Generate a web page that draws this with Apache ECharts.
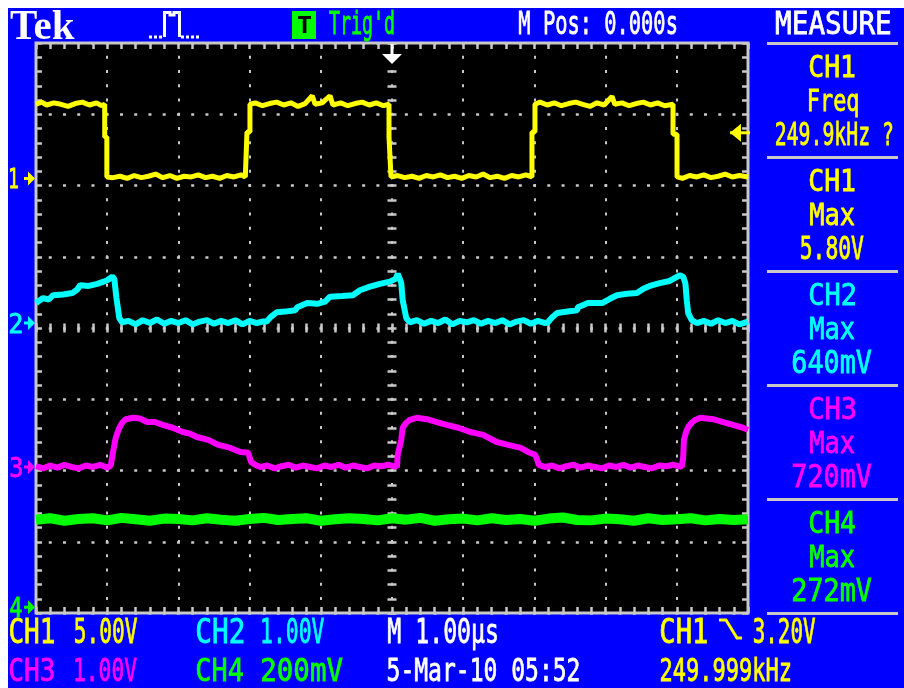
<!DOCTYPE html>
<html><head><meta charset="utf-8">
<script src="https://cdn.jsdelivr.net/npm/echarts@6/dist/echarts.min.js"></script>
<style>html,body{margin:0;padding:0;background:#fff}#c{width:904px;height:688px}</style>
</head><body><div id="c"></div>
<script>
// ---------- data ----------
// time in microseconds, 1.00 us/div, trigger at 0
const timeMin = -5, timeMax = 5;
const divMin = -4, divMax = 4;

// CH1 (yellow) 5.00 V/div
const ch1Scale = 5.0, ch1Pos = 2.1, ch1TrigLevel = 3.20;
const ch1Time = [-5.0,-4.92,-4.85,-4.75,-4.65,-4.55,-4.45,-4.35,-4.25,-4.15,-4.08,-4.035,-4.035,-4.005,-4.005,
  -3.92,-3.82,-3.72,-3.62,-3.52,-3.42,-3.32,-3.22,-3.12,-3.02,-2.92,-2.82,-2.72,-2.62,-2.52,-2.42,-2.32,-2.22,-2.12,-2.06,-2.037,-2.037,-1.995,-1.995,
  -1.92,-1.82,-1.72,-1.62,-1.52,-1.42,-1.32,-1.22,-1.12,-1.08,-0.98,-0.87,-0.83,-0.72,-0.62,-0.52,-0.42,-0.32,-0.22,-0.12,-0.042,-0.042,-0.014,-0.014,
  0.08,0.18,0.28,0.38,0.48,0.58,0.68,0.78,0.88,0.98,1.08,1.18,1.28,1.38,1.48,1.58,1.68,1.78,1.88,1.966,1.966,2.008,2.008,
  2.08,2.18,2.28,2.38,2.48,2.58,2.68,2.78,2.88,2.98,3.09,3.13,3.23,3.33,3.43,3.53,3.63,3.73,3.83,3.947,3.947,4.003,4.003,
  4.08,4.18,4.28,4.38,4.48,4.58,4.68,4.78,4.88,5.0];
const ch1Volts = [5.2,5.35,5.15,5.3,5.2,5.05,5.25,5.35,5.15,5.3,5.1,5.2,2.9,2.9,0.1,
  0.05,0.15,0.0,0.2,0.05,0.15,0.3,0.05,0.2,0.0,0.15,0.1,0.25,0.05,0.15,0.0,0.2,0.1,0.25,0.1,0.1,3.25,3.25,5.2,
  5.3,5.1,5.25,5.35,5.15,5.3,5.05,5.25,5.8,5.2,5.3,5.8,5.15,5.3,5.1,5.25,5.35,5.15,5.3,5.1,5.2,2.9,2.9,0.1,
  0.2,0.05,0.15,0.0,0.2,0.1,0.25,0.05,0.15,0.0,0.2,0.1,0.3,0.05,0.15,0.0,0.2,0.1,0.25,0.1,3.25,3.25,5.2,
  5.35,5.15,5.3,5.1,5.25,5.35,5.2,5.05,5.3,5.15,5.75,5.2,5.3,5.1,5.25,5.35,5.15,5.3,5.1,5.2,3.1,3.1,0.1,
  0.0,0.2,0.1,0.25,0.05,0.15,0.3,0.1,0.2,0.1];

// CH2 (cyan) 1.00 V/div
const ch2Scale = 1.0, ch2Pos = 0.07;
const ch2Time = [-5.0,-4.9,-4.82,-4.76,-4.62,-4.49,-4.42,-4.38,-4.26,-4.14,-4.05,-4.0,-3.93,-3.9,-3.87,-3.83,-3.79,
  -3.7,-3.6,-3.5,-3.4,-3.3,-3.2,-3.1,-3.0,-2.9,-2.8,-2.7,-2.6,-2.5,-2.4,-2.3,-2.2,-2.1,-2.0,-1.9,-1.82,
  -1.76,-1.71,-1.62,-1.5,-1.36,-1.33,-1.19,-1.05,-0.94,-0.87,-0.7,-0.55,-0.45,-0.31,-0.17,-0.03,0.05,0.08,0.11,0.13,0.15,0.2,0.25,
  0.35,0.45,0.55,0.65,0.75,0.85,0.95,1.05,1.15,1.25,1.35,1.45,1.55,1.65,1.75,1.85,1.95,2.05,2.15,
  2.19,2.25,2.32,2.39,2.6,2.61,2.68,2.75,2.95,3.06,3.16,3.3,3.44,3.53,3.62,3.76,3.9,3.97,4.04,4.09,4.12,4.14,4.16,4.21,4.28,
  4.38,4.48,4.58,4.68,4.78,4.88,5.0];
const ch2Volts = [0.28,0.35,0.33,0.39,0.40,0.42,0.47,0.53,0.52,0.55,0.58,0.6,0.65,0.62,0.35,0.07,0.01,
  0.03,-0.02,0.04,0.0,0.05,-0.01,0.03,0.0,0.04,-0.02,0.02,0.04,-0.01,0.03,0.0,0.04,-0.02,0.03,0.0,0.02,
  0.02,0.08,0.15,0.16,0.18,0.22,0.28,0.27,0.30,0.37,0.38,0.39,0.46,0.51,0.55,0.58,0.62,0.69,0.62,0.56,0.32,0.07,0.01,
  0.04,-0.01,0.03,0.0,0.05,-0.02,0.03,0.01,0.04,-0.01,0.03,0.0,0.04,-0.02,0.02,0.04,-0.01,0.03,0.0,
  0.01,0.08,0.14,0.15,0.18,0.22,0.25,0.28,0.28,0.34,0.39,0.41,0.42,0.48,0.52,0.56,0.59,0.63,0.67,0.65,0.56,0.32,0.14,0.04,0.0,
  0.03,-0.01,0.04,0.0,0.03,-0.02,0.02];

// CH3 (magenta) 1.00 V/div
const ch3Scale = 1.0, ch3Pos = -1.95;
const ch3Time = [-5.0,-4.9,-4.8,-4.7,-4.6,-4.5,-4.4,-4.3,-4.2,-4.1,-4.0,-3.95,-3.93,
  -3.92,-3.88,-3.83,-3.79,-3.74,-3.64,-3.54,-3.44,-3.33,-3.22,-3.08,-2.94,-2.84,-2.74,-2.58,-2.44,-2.28,-2.13,-2.02,-1.98,-1.92,-1.85,
  -1.75,-1.65,-1.55,-1.45,-1.35,-1.25,-1.15,-1.05,-0.95,-0.85,-0.75,-0.65,-0.55,-0.45,-0.35,-0.25,-0.15,-0.05,0.07,
  0.08,0.13,0.15,0.2,0.25,0.35,0.49,0.63,0.77,0.93,1.1,1.28,1.47,1.63,1.8,1.91,2.01,2.04,2.06,2.15,
  2.25,2.35,2.45,2.55,2.65,2.75,2.85,2.95,3.05,3.15,3.25,3.35,3.45,3.55,3.65,3.75,3.85,3.95,4.07,
  4.09,4.1,4.13,4.16,4.21,4.26,4.33,4.51,4.65,4.79,4.93,5.0];
const ch3Volts = [0.01,-0.02,0.02,-0.01,0.03,0.0,-0.02,0.02,0.0,0.03,-0.01,0.02,0.0,
  0.2,0.41,0.55,0.62,0.67,0.69,0.68,0.63,0.63,0.59,0.55,0.49,0.47,0.42,0.38,0.31,0.27,0.21,0.2,0.07,0.03,0.0,
  0.02,-0.02,0.01,0.03,-0.01,0.02,0.0,-0.02,0.02,0.0,0.03,-0.01,0.02,0.0,-0.02,0.02,0.01,0.03,0.0,
  0.17,0.38,0.55,0.62,0.66,0.69,0.67,0.63,0.59,0.55,0.49,0.45,0.35,0.31,0.27,0.21,0.17,0.1,0.03,0.0,
  0.02,-0.02,0.01,0.03,-0.01,0.02,0.0,-0.02,0.02,0.0,0.03,-0.01,0.02,0.0,-0.02,0.02,0.01,0.03,0.0,
  0.14,0.38,0.49,0.56,0.62,0.66,0.69,0.67,0.63,0.59,0.55,0.52];

// CH4 (green) 200 mV/div
const ch4Scale = 0.2, ch4Pos = -3.92;
const ch4Time = [-5.0,-4.8,-4.6,-4.4,-4.2,-4.0,-3.8,-3.6,-3.4,-3.2,-3.0,-2.8,-2.6,-2.4,-2.2,-2.0,-1.8,-1.6,-1.4,-1.2,
  -1.0,-0.8,-0.6,-0.4,-0.2,0.0,0.2,0.4,0.6,0.8,1.0,1.2,1.4,1.6,1.8,2.0,2.2,2.4,2.6,2.8,
  3.0,3.2,3.4,3.6,3.8,4.0,4.2,4.4,4.6,4.8,5.0];
const ch4Volts = [0.246,0.25,0.243,0.248,0.25,0.244,0.251,0.247,0.243,0.249,
  0.248,0.244,0.25,0.246,0.243,0.248,0.251,0.245,0.248,0.25,
  0.243,0.247,0.25,0.248,0.244,0.25,0.246,0.251,0.243,0.247,
  0.249,0.244,0.25,0.245,0.248,0.243,0.249,0.252,0.245,0.244,
  0.249,0.247,0.243,0.25,0.245,0.247,0.25,0.244,0.248,0.245,0.247];

// ---------- styling ----------
const YEL = '#ffff00', CYA = '#00ffff', MAG = '#ff00ff', GRN = '#00ff00', BLUE = '#0000ff', GRAY = '#c8c8c8', WHITE = '#ffffff';
const MONO = '"DejaVu Sans Mono"';
const TXTW = 'normal';

function toDiv(times, volts, pos, scale) { return times.map((t, i) => [t, pos + volts[i] / scale]); }

function borderAxis(position, isX) {
  return {
    type: 'value', min: isX ? timeMin : divMin, max: isX ? timeMax : divMax, interval: 1, position: position,
    axisLine: { show: false, onZero: false },
    axisLabel: { show: false },
    axisTick: { show: true, inside: true, length: 6, lineStyle: { color: GRAY, width: 2.5 } },
    minorTick: { show: true, splitNumber: 5, length: 6, lineStyle: { color: GRAY, width: 2.5 } },
    splitLine: { show: false }, minorSplitLine: { show: false }
  };
}
function centerAxis(position, isX, inside) {
  return {
    type: 'value', min: isX ? timeMin : divMin, max: isX ? timeMax : divMax, interval: 1, position: position,
    axisLine: { show: true, onZero: true, onZeroAxisIndex: 0, lineStyle: { color: 'rgba(0,0,0,0)', width: 0 } },
    axisLabel: { show: false },
    axisTick: { show: true, inside: inside, length: 4.5, lineStyle: { color: GRAY, width: 2.5 } },
    minorTick: { show: true, splitNumber: 5, length: 4.5, lineStyle: { color: GRAY, width: 2.5 } },
    splitLine: { show: false }, minorSplitLine: { show: false }
  };
}
const xMain = borderAxis('bottom', true);
xMain.splitLine = { show: true, lineStyle: { color: GRAY, width: 2, type: [3, 11.245], dashOffset: 1.5 } };
const yMain = borderAxis('left', false);
yMain.splitLine = { show: true, lineStyle: { color: GRAY, width: 2.5, type: [3, 11.245], dashOffset: 1.5 } };

function lineSeries(data, color, width) {
  return { type: 'line', xAxisIndex: 0, yAxisIndex: 0, data: data, showSymbol: false, symbol: 'none', clip: true, silent: true,
    lineStyle: { color: color, width: width, join: 'bevel' }, emphasis: { disabled: true } };
}

const chart = echarts.init(document.getElementById('c'), null, { renderer: 'canvas' });
chart.setOption({
  animation: false,
  backgroundColor: BLUE,
  grid: { left: 36, top: 43, width: 712, height: 570, show: true, backgroundColor: '#000000', borderColor: GRAY, borderWidth: 3, containLabel: false, outerBoundsMode: 'none' },
  xAxis: [xMain, borderAxis('top', true), centerAxis('bottom', true, true), centerAxis('bottom', true, false)],
  yAxis: [yMain, borderAxis('right', false), centerAxis('left', false, true), centerAxis('left', false, false)],
  series: [
    lineSeries(toDiv(ch4Time, ch4Volts, ch4Pos, ch4Scale), GRN, 10),
    lineSeries(toDiv(ch3Time, ch3Volts, ch3Pos, ch3Scale), MAG, 6),
    lineSeries(toDiv(ch2Time, ch2Volts, ch2Pos, ch2Scale), CYA, 6),
    lineSeries(toDiv(ch1Time, ch1Volts, ch1Pos, ch1Scale), YEL, 5)
  ]
});

// ---------- texts & decorations ----------
const mctx = document.createElement('canvas').getContext('2d');
function fitText(str, x1, x2, top, bottom, color, family, weight, strokeW) {
  family = family || MONO; weight = weight || TXTW;
  mctx.textBaseline = 'middle'; mctx.textAlign = 'left';
  mctx.font = weight + ' 100px ' + family;
  let h = mctx.measureText('H');
  const cap100 = h.actualBoundingBoxAscent + h.actualBoundingBoxDescent;
  const F = 100 * (bottom - top) / cap100;
  const font = weight + ' ' + F.toFixed(2) + 'px ' + family;
  mctx.font = font;
  h = mctx.measureText('H');
  const m = mctx.measureText(str);
  const inkW = m.actualBoundingBoxLeft + m.actualBoundingBoxRight;
  const sx = (x2 - x1) / inkW;
  const sw = strokeW == null ? 0.8 : strokeW;
  return { type: 'text', x: x1 + m.actualBoundingBoxLeft * sx, y: top + h.actualBoundingBoxAscent, scaleX: sx, scaleY: 1, z: 100, silent: true,
    style: { text: str, font: font, fill: color, stroke: sw > 0 ? color : null, lineWidth: sw, align: 'left', verticalAlign: 'middle', textAlign: 'left', textVerticalAlign: 'middle' } };
}
function rect(x, y, w, h, color) { return { type: 'rect', shape: { x: x, y: y, width: w, height: h }, style: { fill: color }, z: 100, silent: true }; }
function poly(points, color) { return { type: 'polygon', shape: { points: points }, style: { fill: color }, z: 100, silent: true }; }
function pline(points, color, w, dash) { return { type: 'polyline', shape: { points: points }, style: { stroke: color, lineWidth: w, fill: null, lineDash: dash || null }, z: 100, silent: true }; }

const px = (t, d) => chart.convertToPixel({ gridIndex: 0 }, [t, d]);
const g = [];
g.push(rect(0, 0, 904, 8, WHITE), rect(0, 0, 8, 688, WHITE));
// header
g.push(fitText('Tek', 10, 75, 11, 39, WHITE, '"Liberation Serif"', 'bold', 0));
g.push(pline([[149, 37], [163, 37]], WHITE, 3, [3, 2]));
g.push(pline([[164.5, 37], [164.5, 12.5], [170, 12.5], [170, 15], [174, 15], [174, 12.5], [179.5, 12.5], [179.5, 37]], WHITE, 3));
g.push(pline([[181, 37], [200, 37]], WHITE, 3, [3, 2]));
g.push(rect(292, 11, 24, 28, GRN));
g.push(fitText('T', 298, 311, 16, 33, '#000000', MONO, 'bold', 0));
g.push(fitText("Trig'd", 329, 394, 11, 34, GRN));
g.push(fitText('M Pos: 0.000s', 519, 676, 11, 34, WHITE));
g.push(fitText('MEASURE', 776, 890, 11, 34, WHITE));
// measure panel
[42, 156, 270, 384, 498, 612].forEach(y => g.push(rect(767, y, 131, 3, GRAY)));
const panel = [
  ['CH1', 'Freq', '249.9kHz ?', YEL, 43],
  ['CH1', 'Max', '5.80V', YEL, 157],
  ['CH2', 'Max', '640mV', CYA, 271],
  ['CH3', 'Max', '720mV', MAG, 385],
  ['CH4', 'Max', '272mV', GRN, 499]
];
panel.forEach((p, i) => {
  const top = p[4];
  g.push(fitText(p[0], 810, 855, top + 12, top + 34, p[3]));
  g.push(fitText(p[1], p[1] === 'Freq' ? 809 : 810, p[1] === 'Freq' ? 858 : 855, top + 46, top + 68, p[3]));
  let xa = 793, xb = 872;
  if (p[2] === '249.9kHz ?') { xa = 776; xb = 892; }
  if (p[2] === '5.80V') { xa = 801; xb = 864; }
  g.push(fitText(p[2], xa, xb, top + 79, top + 102, p[3]));
});
// bottom status
g.push(fitText('CH1', 10, 54, 618, 642, YEL), fitText('5.00V', 75, 137, 618, 642, YEL));
g.push(fitText('CH2', 197, 243, 618, 642, CYA), fitText('1.00V', 262, 324, 618, 642, CYA));
g.push(fitText('M 1.00\u00b5s', 388, 497, 618, 642, WHITE));
g.push(fitText('CH1', 661, 707, 618, 642, YEL), fitText('3.20V', 754, 815, 618, 642, YEL));
g.push(pline([[719, 620], [726, 620], [737, 638], [742, 638]], YEL, 3));
g.push(fitText('CH3', 10, 54, 658, 681, MAG), fitText('1.00V', 75, 137, 658, 681, MAG));
g.push(fitText('CH4', 197, 243, 658, 681, GRN), fitText('200mV', 262, 343, 658, 681, GRN));
g.push(fitText('5-Mar-10 05:52', 388, 579, 658, 681, WHITE));
g.push(fitText('249.999kHz', 661, 790, 658, 681, YEL));
// channel ground markers
[['1', ch1Pos, YEL, 18], ['2', ch2Pos, CYA, 22], ['3', ch3Pos, MAG, 22], ['4', ch4Pos, GRN, 22]].forEach(m => {
  const y = px(0, m[1])[1];
  g.push(fitText(m[0], 10, m[3], y - 10, y + 10, m[2]));
  g.push(poly([[24, y - 1.5], [28, y - 1.5], [28, y - 7], [35, y], [28, y + 7], [28, y + 1.5], [24, y + 1.5]], m[2]));
});
// trigger level (right) and trigger position (top)
const ty = px(0, ch1Pos + ch1TrigLevel / ch1Scale)[1];
g.push(poly([[730, ty], [741, ty - 9], [741, ty + 9]], YEL), rect(730, ty - 1.5, 20, 3, YEL));
const tx = px(0, 0)[0];
g.push(rect(tx - 1.5, 44, 3, 11, WHITE), poly([[tx - 10, 54], [tx + 10, 54], [tx, 64]], WHITE));

chart.setOption({ graphic: { elements: g } });
</script></body></html>
